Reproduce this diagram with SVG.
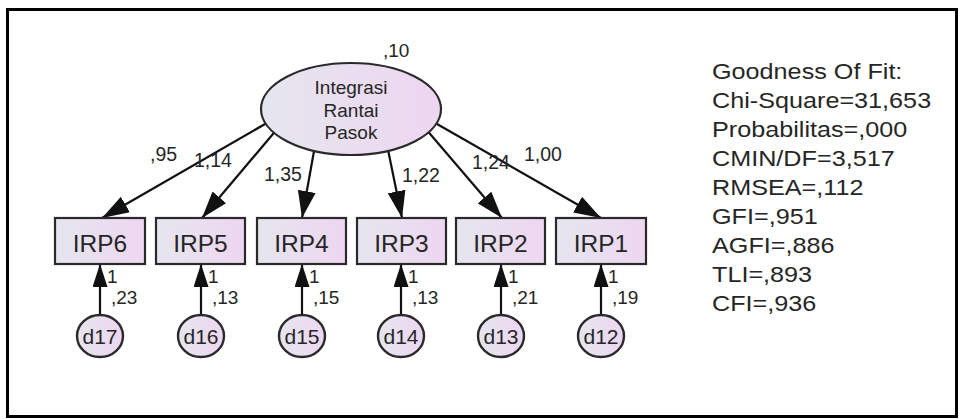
<svg xmlns="http://www.w3.org/2000/svg" width="966" height="419" viewBox="0 0 966 419">
  <style>
    .lbl { font-family: "Liberation Sans", Arial, sans-serif; fill: #262626; }
    .obs rect { fill: url(#nodeFill); stroke: #2a2a2a; stroke-width: 2.2; }
    .lat ellipse { fill: url(#nodeFill); stroke: #2a2a2a; stroke-width: 2.2; }
    .err ellipse { fill: url(#nodeFill); stroke: #2a2a2a; stroke-width: 2.4; }
    .conn line { stroke: #111; stroke-width: 2.2; }
    .load { marker-end: url(#head); }
    .errl { marker-end: url(#head2); }
  </style>
  <defs>
    <linearGradient id="nodeFill" x1="0" y1="0" x2="1" y2="0">
      <stop offset="0" stop-color="#e5e6ee"/>
      <stop offset="1" stop-color="#eed6f1"/>
    </linearGradient>
    <marker id="head" markerUnits="userSpaceOnUse" markerWidth="30" markerHeight="20" refX="27" refY="9" orient="auto">
      <path d="M0,0 L27,9 L0,18 z" fill="#111"/>
    </marker>
    <marker id="head2" markerUnits="userSpaceOnUse" markerWidth="26" markerHeight="18" refX="23" refY="7.5" orient="auto">
      <path d="M0,0 L23,7.5 L0,15 z" fill="#111"/>
    </marker>
  </defs>

  <rect x="0" y="0" width="966" height="419" fill="#fff"/>
  <!-- outer frame -->
  <rect x="7.5" y="9.5" width="949" height="407" fill="none" stroke="#000" stroke-width="3"/>

  <!-- connectors -->
  <g id="connectors" class="conn">
    <line class="load" x1="272" y1="120" x2="102" y2="218"/>
    <line class="load" x1="278" y1="128" x2="202" y2="218"/>
    <line class="load" x1="316" y1="140" x2="302" y2="218"/>
    <line class="load" x1="386" y1="140" x2="402" y2="218"/>
    <line class="load" x1="425" y1="128" x2="502" y2="218"/>
    <line class="load" x1="430" y1="120" x2="601" y2="218"/>
    <line class="errl" x1="100" y1="316" x2="100" y2="264"/>
    <line class="errl" x1="201" y1="316" x2="201" y2="264"/>
    <line class="errl" x1="302" y1="316" x2="302" y2="264"/>
    <line class="errl" x1="401" y1="316" x2="401" y2="264"/>
    <line class="errl" x1="501" y1="316" x2="501" y2="264"/>
    <line class="errl" x1="601" y1="316" x2="601" y2="264"/>
  </g>

  <!-- latent variable -->
  <g id="IRP" class="lat">
    <ellipse cx="351" cy="109" rx="90" ry="46"/>
    <text class="lbl" x="351" y="94" font-size="19" text-anchor="middle">Integrasi</text>
    <text class="lbl" x="351" y="117" font-size="19" text-anchor="middle">Rantai</text>
    <text class="lbl" x="351" y="139" font-size="19" text-anchor="middle">Pasok</text>
    <text class="lbl" x="383" y="57" font-size="19">,10</text>
  </g>

  <!-- observed indicators -->
  <g id="IRP6" class="obs"><rect x="55" y="218" width="90" height="46"/><text class="lbl" x="100" y="252" font-size="24.5" text-anchor="middle">IRP6</text></g>
  <g id="IRP5" class="obs"><rect x="156" y="218" width="89" height="46"/><text class="lbl" x="200.5" y="252" font-size="24.5" text-anchor="middle">IRP5</text></g>
  <g id="IRP4" class="obs"><rect x="257" y="218" width="89" height="46"/><text class="lbl" x="301.5" y="252" font-size="24.5" text-anchor="middle">IRP4</text></g>
  <g id="IRP3" class="obs"><rect x="357" y="218" width="89" height="46"/><text class="lbl" x="401.5" y="252" font-size="24.5" text-anchor="middle">IRP3</text></g>
  <g id="IRP2" class="obs"><rect x="456" y="218" width="89" height="46"/><text class="lbl" x="500.5" y="252" font-size="24.5" text-anchor="middle">IRP2</text></g>
  <g id="IRP1" class="obs"><rect x="556" y="218" width="90" height="46"/><text class="lbl" x="601" y="252" font-size="24.5" text-anchor="middle">IRP1</text></g>

  <!-- error terms -->
  <g id="d17" class="err"><ellipse cx="100" cy="336" rx="23" ry="21"/><text class="lbl" x="100" y="343.5" font-size="21" text-anchor="middle">d17</text></g>
  <g id="d16" class="err"><ellipse cx="201" cy="336" rx="23" ry="21"/><text class="lbl" x="201" y="343.5" font-size="21" text-anchor="middle">d16</text></g>
  <g id="d15" class="err"><ellipse cx="302" cy="336" rx="23" ry="21"/><text class="lbl" x="302" y="343.5" font-size="21" text-anchor="middle">d15</text></g>
  <g id="d14" class="err"><ellipse cx="401" cy="336" rx="23" ry="21"/><text class="lbl" x="401" y="343.5" font-size="21" text-anchor="middle">d14</text></g>
  <g id="d13" class="err"><ellipse cx="501" cy="336" rx="23" ry="21"/><text class="lbl" x="501" y="343.5" font-size="21" text-anchor="middle">d13</text></g>
  <g id="d12" class="err"><ellipse cx="601" cy="336" rx="23" ry="21"/><text class="lbl" x="601" y="343.5" font-size="21" text-anchor="middle">d12</text></g>

  <!-- loading estimates -->
  <g id="loadings" class="lbl" font-size="19.5">
    <text x="150" y="161">,95</text>
    <text x="194" y="167">1,14</text>
    <text x="264" y="181">1,35</text>
    <text x="402" y="182">1,22</text>
    <text x="472" y="169">1,24</text>
    <text x="524" y="161">1,00</text>
  </g>

  <!-- error path weights and variances -->
  <g id="errlabels" class="lbl" font-size="19">
    <text x="107" y="283">1</text><text x="111" y="304">,23</text>
    <text x="208" y="283">1</text><text x="212" y="304">,13</text>
    <text x="309" y="283">1</text><text x="313" y="304">,15</text>
    <text x="408" y="283">1</text><text x="412" y="304">,13</text>
    <text x="508" y="283">1</text><text x="512" y="304">,21</text>
    <text x="608" y="283">1</text><text x="612" y="304">,19</text>
  </g>

  <!-- fit statistics -->
  <g id="fit" class="lbl" font-size="22.5" transform="translate(712,0) scale(1.12,1)">
    <text x="0" y="79">Goodness Of Fit:</text>
    <text x="0" y="108">Chi-Square=31,653</text>
    <text x="0" y="137">Probabilitas=,000</text>
    <text x="0" y="166">CMIN/DF=3,517</text>
    <text x="0" y="195">RMSEA=,112</text>
    <text x="0" y="224">GFI=,951</text>
    <text x="0" y="253">AGFI=,886</text>
    <text x="0" y="282">TLI=,893</text>
    <text x="0" y="311">CFI=,936</text>
  </g>
</svg>
